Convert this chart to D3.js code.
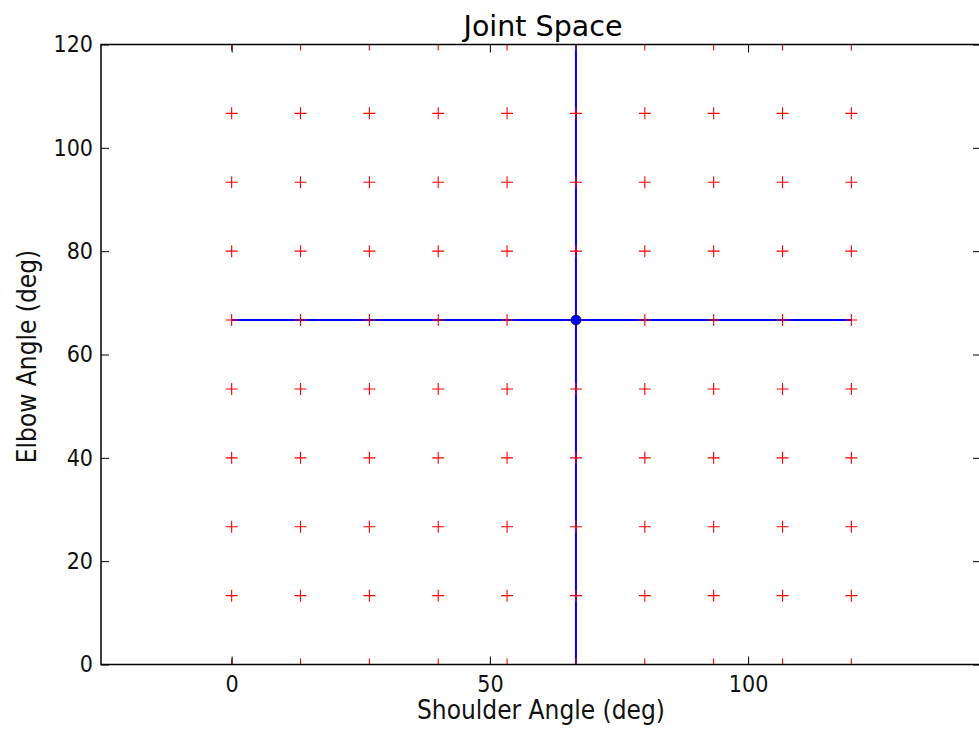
<!DOCTYPE html>
<html>
<head>
<meta charset="utf-8">
<script src="https://cdn.jsdelivr.net/npm/d3@7"></script>
<style>
  html, body { margin: 0; padding: 0; background: #fff; }
  svg { display: block; }
  text { font-family: "DejaVu Sans", sans-serif; fill: #000; }
  .cond { font-family: "DejaVu Sans Condensed", "DejaVu Sans", sans-serif; font-stretch: condensed; fill: #111; }
</style>
</head>
<body>
<script>
// ---- data ----
const title = "Joint Space";
const xLabel = "Shoulder Angle (deg)";
const yLabel = "Elbow Angle (deg)";
const gridX = [0, 13.33, 26.67, 40, 53.33, 66.67, 80, 93.33, 106.67, 120];
const gridY = [0, 13.33, 26.67, 40, 53.33, 66.67, 80, 93.33, 106.67, 120];
const hLine = { y: 66.67, x: [0, 120] };
const vLine = { x: 66.67, y: [0, 120] };
const currentPoint = [66.67, 66.67];
const xTicks = [0, 50, 100];
const yTicks = [0, 20, 40, 60, 80, 100, 120];
const xDomain = [-25.3, 145.1];
const yDomain = [0, 120];

// ---- layout ----
const W = 979, H = 732;
const mLeft = 101, mRight = 981, mTop = 44.5, mBottom = 664.5;

const svg = d3.select("body").append("svg").attr("width", W).attr("height", H);

const x = d3.scaleLinear().domain(xDomain).range([mLeft, mRight]);
const y = d3.scaleLinear().domain(yDomain).range([mBottom, mTop]);

svg.append("defs").append("clipPath").attr("id", "clip")
  .append("rect").attr("x", mLeft).attr("y", mTop)
  .attr("width", mRight - mLeft).attr("height", mBottom - mTop);

const plot = svg.append("g").attr("clip-path", "url(#clip)");

// blue lines
plot.append("line")
  .attr("x1", x(hLine.x[0])).attr("x2", x(hLine.x[1]))
  .attr("y1", y(hLine.y)).attr("y2", y(hLine.y))
  .attr("stroke", "#0000ff").attr("stroke-width", 2);
plot.append("line")
  .attr("x1", x(vLine.x)).attr("x2", x(vLine.x))
  .attr("y1", y(vLine.y[0])).attr("y2", y(vLine.y[1]))
  .attr("stroke", "#0000ff").attr("stroke-width", 2);

// red plus grid
const pts = [];
gridX.forEach(gx => gridY.forEach(gy => pts.push([gx, gy])));
const s = 6;
plot.append("g").selectAll("path").data(pts).join("path")
  .attr("d", d => {
    const cx = x(d[0]), cy = y(d[1]);
    return `M${cx - s},${cy}H${cx + s}M${cx},${cy - s}V${cy + s}`;
  })
  .attr("stroke", "#ff0000").attr("stroke-width", 1.1).attr("fill", "none");

// current point
plot.append("circle")
  .attr("cx", x(currentPoint[0])).attr("cy", y(currentPoint[1]))
  .attr("r", 5).attr("fill", "#0000ff").attr("stroke", "#000").attr("stroke-width", 0.6);

// axes (ticks inside)
const tl = 8;
svg.append("g").attr("transform", `translate(0,${mBottom})`)
  .call(d3.axisBottom(x).tickValues(xTicks).tickSize(-tl).tickPadding(11).tickFormat(d3.format("d")))
  .call(g => g.select(".domain").remove())
  .call(g => g.selectAll("text").attr("class", "cond").attr("font-size", 23).attr("font-family", null));
svg.append("g").attr("transform", `translate(0,${mTop})`)
  .call(d3.axisTop(x).tickValues(xTicks).tickSize(-tl).tickFormat(""))
  .call(g => g.select(".domain").remove());
svg.append("g").attr("transform", `translate(${mLeft},0)`)
  .call(d3.axisLeft(y).tickValues(yTicks).tickSize(-tl).tickPadding(8).tickFormat(d3.format("d")))
  .call(g => g.select(".domain").remove())
  .call(g => g.selectAll("text").attr("class", "cond").attr("font-size", 23).attr("font-family", null));
svg.append("g").attr("transform", `translate(${mRight},0)`)
  .call(d3.axisRight(y).tickValues(yTicks).tickSize(-tl).tickFormat(""))
  .call(g => g.select(".domain").remove());
svg.selectAll(".tick line").attr("stroke", "#000").attr("stroke-width", 1);

// frame
svg.append("rect").attr("x", mLeft).attr("y", mTop)
  .attr("width", mRight - mLeft).attr("height", mBottom - mTop)
  .attr("fill", "none").attr("stroke", "#000").attr("stroke-width", 1.5);

// labels
svg.append("text").attr("x", (mLeft + mRight) / 2 + 2).attr("y", 36)
  .attr("text-anchor", "middle").attr("font-size", 28.5).text(title);
svg.append("text").attr("class", "cond").attr("x", (mLeft + mRight) / 2).attr("y", 719)
  .attr("text-anchor", "middle").attr("font-size", 26).text(xLabel);
svg.append("text").attr("class", "cond").attr("transform", `translate(36,${(mTop + mBottom) / 2 + 2}) rotate(-90)`)
  .attr("text-anchor", "middle").attr("font-size", 26).text(yLabel);
</script>
</body>
</html>
